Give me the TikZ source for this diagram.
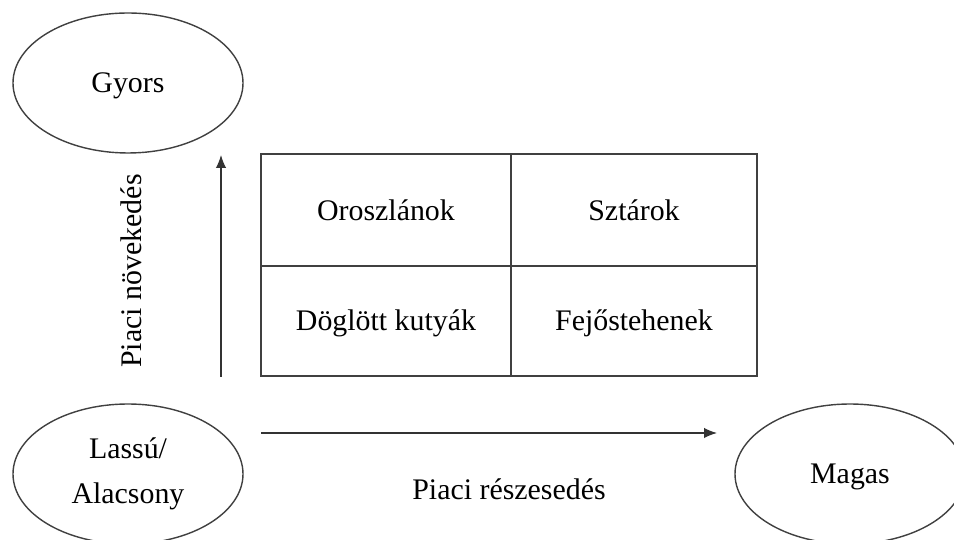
\documentclass[tikz,border=0pt]{standalone}
\usepackage{fontspec}
\setmainfont{Liberation Serif}
\usepackage{tikz}
\usetikzlibrary{arrows.meta, shapes.geometric}

\tikzset{
    oval/.style={draw=black!75, line width=0.8pt, ellipse, minimum width=4.6cm, minimum height=2.8cm, inner sep=0pt, align=center},
    cell/.style={inner sep=0pt},
    axis/.style={draw=black!80, line width=0.8pt, -{Latex[length=2.6mm,width=2.1mm]}}
}

\begin{document}
\begin{tikzpicture}[font=\fontsize{17}{25.5}\selectfont]
        \useasboundingbox (0,0) rectangle (19.08,10.8);
        
        \node[oval, text depth=0pt] (gyors) at (2.56,9.14) {Gyors};
        \node[oval] (lassu) at (2.56,1.32) {Lassú/\\Alacsony};
        \node[oval, text depth=0pt] (magas) at (17.0,1.32) {Magas};
        
        \draw[black!75, line width=0.8pt] (5.22,3.28) rectangle (15.14,7.72);
        \draw[black!75, line width=0.8pt] (10.22,3.28) -- (10.22,7.72);
        \draw[black!75, line width=0.8pt] (5.22,5.48) -- (15.14,5.48);
        
        \node[cell] (oroszlan) at (7.72,6.6) {Oroszlánok};
        \node[cell] (sztar) at (12.68,6.6) {Sztárok};
        \node[cell] (kutya) at (7.72,4.34) {Döglött kutyák};
        \node[cell] (tehen) at (12.68,4.34) {Fejőstehenek};
        
        \coordinate (nov0) at (4.42,3.26);
        \coordinate (nov1) at (4.42,7.70);
        \coordinate (resz0) at (5.22,2.14);
        \coordinate (resz1) at (14.34,2.14);
        \draw[axis] (nov0) -- (nov1);
        \draw[axis] (resz0) -- (resz1);
        
        \node[rotate=90] (novekedes) at (2.62,5.38) {Piaci növekedés};
        \node (reszesedes) at (10.18,1.02) {Piaci részesedés};
        
    \end{tikzpicture}
\end{document}
